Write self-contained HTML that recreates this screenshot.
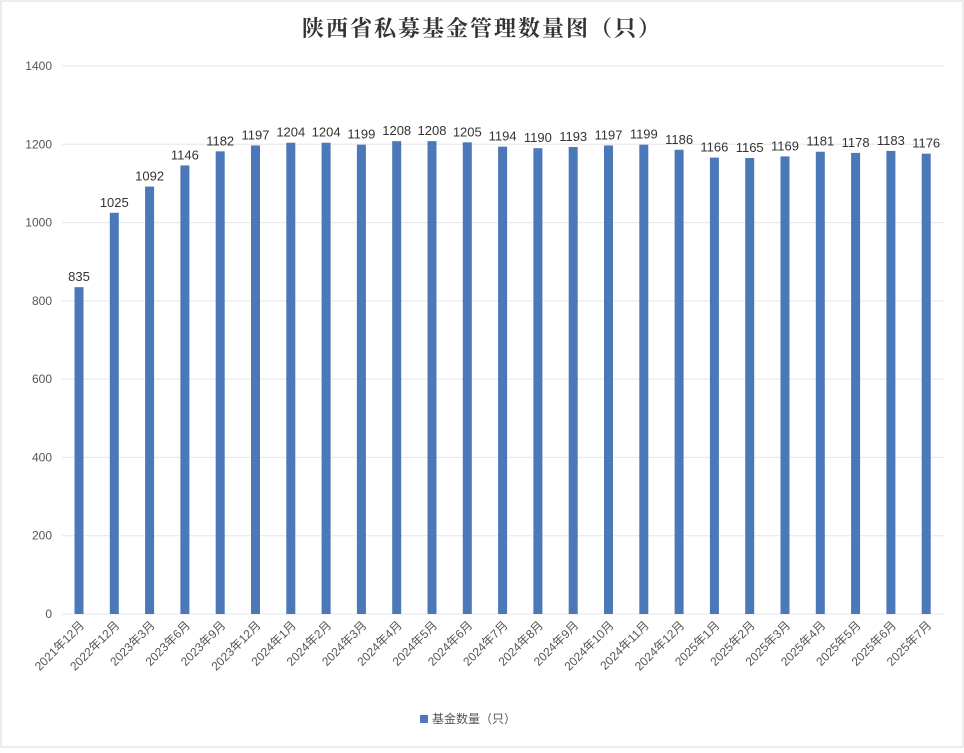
<!DOCTYPE html><html><head><meta charset="utf-8"><style>body{margin:0;background:#fff}</style></head><body>
<svg width="964" height="748" xmlns="http://www.w3.org/2000/svg" font-family="Liberation Sans, Noto Sans CJK SC, sans-serif">
<rect x="1" y="1" width="962" height="746" fill="#fff" stroke="#d9d9d9"/>
<text x="482" y="36" text-anchor="middle" font-size="22" font-weight="bold" font-family="Noto Serif CJK SC, serif" fill="#333" letter-spacing="2">陕西省私募基金管理数量图（只）</text>
<g id="g"></g>
</svg>
<script>
const vals=[835,1025,1092,1146,1182,1197,1204,1204,1199,1208,1208,1205,1194,1190,1193,1197,1199,1186,1166,1165,1169,1181,1178,1183,1176];
const labs=["2021年12月","2022年12月","2023年3月","2023年6月","2023年9月","2023年12月"];
for(let i=1;i<=12;i++)labs.push("2024年"+i+"月");for(let i=1;i<=7;i++)labs.push("2025年"+i+"月");
let s="";const y0=614,k=(614-66)/1400;
for(let v=0;v<=1400;v+=200){const y=y0-v*k;s+=`<line x1="62" x2="944" y1="${y}" y2="${y}" stroke="#e6e6e6"/><text x="52" y="${y+4}" text-anchor="end" font-size="12" fill="#555">${v}</text>`;}
vals.forEach((v,i)=>{const x=79+i*35.3;const h=v*k;
s+=`<rect x="${x-4.5}" y="${y0-h}" width="9" height="${h}" fill="#4a78b8"/>`;
s+=`<text x="${x}" y="${y0-h-6}" text-anchor="middle" font-size="13" fill="#333">${v}</text>`;
s+=`<text transform="translate(${x+6},${y0+12}) rotate(-45)" text-anchor="end" font-size="12" fill="#555">${labs[i]}</text>`;});
s+=`<rect x="420" y="715" width="8" height="8" fill="#4a78b8"/><text x="432" y="723" font-size="12" fill="#555">基金数量（只）</text>`;
document.getElementById("g").innerHTML=s;
</script>
</body></html>
